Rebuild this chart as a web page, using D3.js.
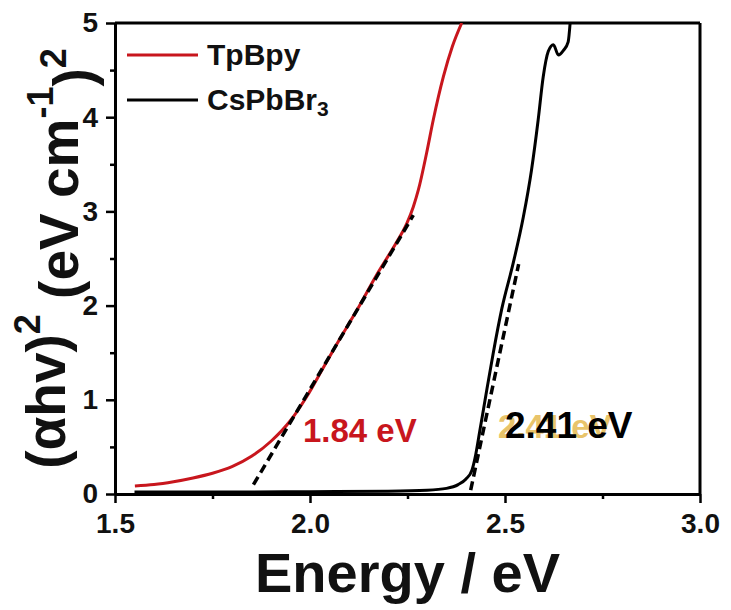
<!DOCTYPE html>
<html>
<head>
<meta charset="utf-8">
<script src="https://cdn.jsdelivr.net/npm/d3@7"></script>
<style>
  body { margin: 0; background: #fff; }
  text { font-family: Arial, 'Liberation Sans', sans-serif; font-weight: bold; }
</style>
</head>
<body>
<div id="chart"></div>
<script>
// Tauc plot, values
const tpbpyEnergy = [1.551, 1.6, 1.65, 1.7, 1.75, 1.8, 1.85, 1.9, 1.95, 1.991, 2.034, 2.077, 2.12, 2.17, 2.22, 2.248, 2.265, 2.278, 2.299, 2.316, 2.342, 2.365, 2.389]
const tpbpyValue = [0.085, 0.10, 0.13, 0.17, 0.22, 0.29, 0.40, 0.56, 0.78, 1.03, 1.34, 1.65, 1.95, 2.32, 2.66, 2.87, 3.05, 3.23, 3.62, 3.97, 4.43, 4.75, 5.0]

const cspbEnergy = [1.55, 1.8, 2.0, 2.2, 2.3, 2.35, 2.38, 2.40, 2.415, 2.425, 2.435, 2.449, 2.47, 2.492, 2.521, 2.547, 2.568, 2.585, 2.598, 2.611, 2.624, 2.637, 2.65, 2.662, 2.667]
const cspbValue = [0.02, 0.02, 0.025, 0.03, 0.04, 0.06, 0.1, 0.16, 0.25, 0.42, 0.66, 1.0, 1.5, 1.97, 2.45, 2.94, 3.44, 3.97, 4.43, 4.70, 4.77, 4.66, 4.71, 4.80, 5.0]

// linear fits (dashed)
const tpbpyFitEnergy = [1.855, 2.265]
const tpbpyFitValue = [0.10, 2.96]
const cspbFitEnergy = [2.412, 2.535]
const cspbFitValue = [0.04, 2.44]

const xTicks = [1.5, 2.0, 2.5, 3.0]
const xMinor = [1.75, 2.25, 2.75]
const yTicks = [0, 1, 2, 3, 4, 5]
const yMinor = [0.5, 1.5, 2.5, 3.5, 4.5]

const seriesNames = ['TpBpy', 'CsPbBr']
const red = '#c8161d'

const margin = { top: 23, right: 31, bottom: 116, left: 115 }
const width = 731 - margin.left - margin.right
const height = 610 - margin.top - margin.bottom

const svg = d3.select('#chart')
  .append('svg')
  .attr('width', 731)
  .attr('height', 610)
  .append('g')
  .attr('transform', 'translate(' + margin.left + ',' + margin.top + ')')

const x = d3.scaleLinear().domain([1.5, 3.0]).range([0, width])
const y = d3.scaleLinear().domain([0, 5]).range([height, 0])

svg.append('defs').append('clipPath')
  .attr('id', 'clip')
  .append('rect')
  .attr('width', width)
  .attr('height', height)

// axes
svg.append('g')
  .attr('transform', 'translate(0,' + height + ')')
  .call(d3.axisBottom(x).tickValues(xTicks).tickSize(9).tickSizeOuter(0).tickPadding(10).tickFormat(d3.format('.1f')))
svg.append('g')
  .attr('transform', 'translate(0,' + height + ')')
  .call(d3.axisBottom(x).tickValues(xMinor).tickSize(5).tickSizeOuter(0).tickFormat(''))

svg.append('g')
  .call(d3.axisLeft(y).tickValues(yTicks).tickSize(9).tickSizeOuter(0).tickPadding(8).tickFormat(d3.format('d')))
svg.append('g')
  .call(d3.axisLeft(y).tickValues(yMinor).tickSize(5).tickSizeOuter(0).tickFormat(''))

svg.selectAll('.domain').attr('stroke-width', 3)
svg.selectAll('.tick line').attr('stroke-width', 2.5)
svg.selectAll('.tick text')
  .attr('font-family', null)
  .style('font-size', '28px')
  .attr('fill', '#111')

// frame top / right
svg.append('line')
  .attr('x1', 0).attr('x2', width).attr('y1', 0).attr('y2', 0)
  .attr('stroke', '#000').attr('stroke-width', 3)
svg.append('line')
  .attr('x1', width).attr('x2', width).attr('y1', 0).attr('y2', height)
  .attr('stroke', '#000').attr('stroke-width', 3)

const line = d3.line()
  .x(function (d) { return x(d[0]) })
  .y(function (d) { return y(d[1]) })
  .curve(d3.curveMonotoneX)

const curves = svg.append('g').attr('clip-path', 'url(#clip)')

curves.append('path')
  .datum(d3.zip(cspbEnergy, cspbValue))
  .attr('fill', 'none')
  .attr('stroke', '#000')
  .attr('stroke-width', 3)
  .attr('d', line)

curves.append('path')
  .datum(d3.zip(tpbpyEnergy, tpbpyValue))
  .attr('fill', 'none')
  .attr('stroke', red)
  .attr('stroke-width', 3)
  .attr('d', line)

const fitLine = d3.line()
  .x(function (d) { return x(d[0]) })
  .y(function (d) { return y(d[1]) })

curves.append('path')
  .datum(d3.zip(tpbpyFitEnergy, tpbpyFitValue))
  .attr('fill', 'none')
  .attr('stroke', '#000')
  .attr('stroke-width', 3.5)
  .attr('stroke-dasharray', '9,5')
  .attr('d', fitLine)

curves.append('path')
  .datum(d3.zip(cspbFitEnergy, cspbFitValue))
  .attr('fill', 'none')
  .attr('stroke', '#000')
  .attr('stroke-width', 3.5)
  .attr('stroke-dasharray', '9,5')
  .attr('d', fitLine)

// gap labels
svg.append('text')
  .attr('x', x(1.982))
  .attr('y', y(0.55))
  .attr('fill', red)
  .style('font-size', '33px')
  .text('1.84 eV')

svg.append('text')
  .attr('x', x(2.482))
  .attr('y', y(0.595))
  .attr('fill', '#e9c46a')
  .style('font-size', '33px')
  .text('2.41 eV')

svg.append('text')
  .attr('x', x(2.5))
  .attr('y', y(0.595))
  .attr('fill', '#000')
  .style('font-size', '37px')
  .text('2.41 eV')

// legend
const legend = svg.append('g').attr('transform', 'translate(12,32)')
const legendColors = [red, '#000']
seriesNames.forEach(function (name, i) {
  const row = legend.append('g').attr('transform', 'translate(0,' + (i * 45) + ')')
  row.append('line')
    .attr('x1', 0).attr('x2', 71)
    .attr('stroke', legendColors[i])
    .attr('stroke-width', 3)
  const t = row.append('text')
    .attr('x', 80)
    .attr('y', 10)
    .style('font-size', '30px')
    .attr('fill', '#111')
    .text(name)
  if (i === 1) {
    t.append('tspan').attr('dy', '0.3em').style('font-size', '21px').text('3')
  }
})

// axis titles
svg.append('text')
  .attr('x', width / 2)
  .attr('y', height + 98)
  .attr('text-anchor', 'middle')
  .style('font-size', '56px')
  .attr('fill', '#111')
  .text('Energy / eV')

const yTitle = svg.append('text')
  .attr('transform', 'translate(' + (-50) + ',' + (height / 2) + ') rotate(-90)')
  .attr('text-anchor', 'middle')
  .attr('xml:space', 'preserve')
  .style('font-size', '55px')
  .attr('fill', '#111')
yTitle.append('tspan').text('(αhv)')
yTitle.append('tspan').attr('dy', '-0.7em').style('font-size', '36px').text('2')
yTitle.append('tspan').attr('dy', '0.7em').text(' (eV cm')
yTitle.append('tspan').attr('dy', '-0.7em').style('font-size', '36px').text('-1')
yTitle.append('tspan').attr('dy', '0.7em').text(')')
yTitle.append('tspan').attr('dy', '-0.7em').style('font-size', '36px').text('2')
</script>
</body>
</html>
